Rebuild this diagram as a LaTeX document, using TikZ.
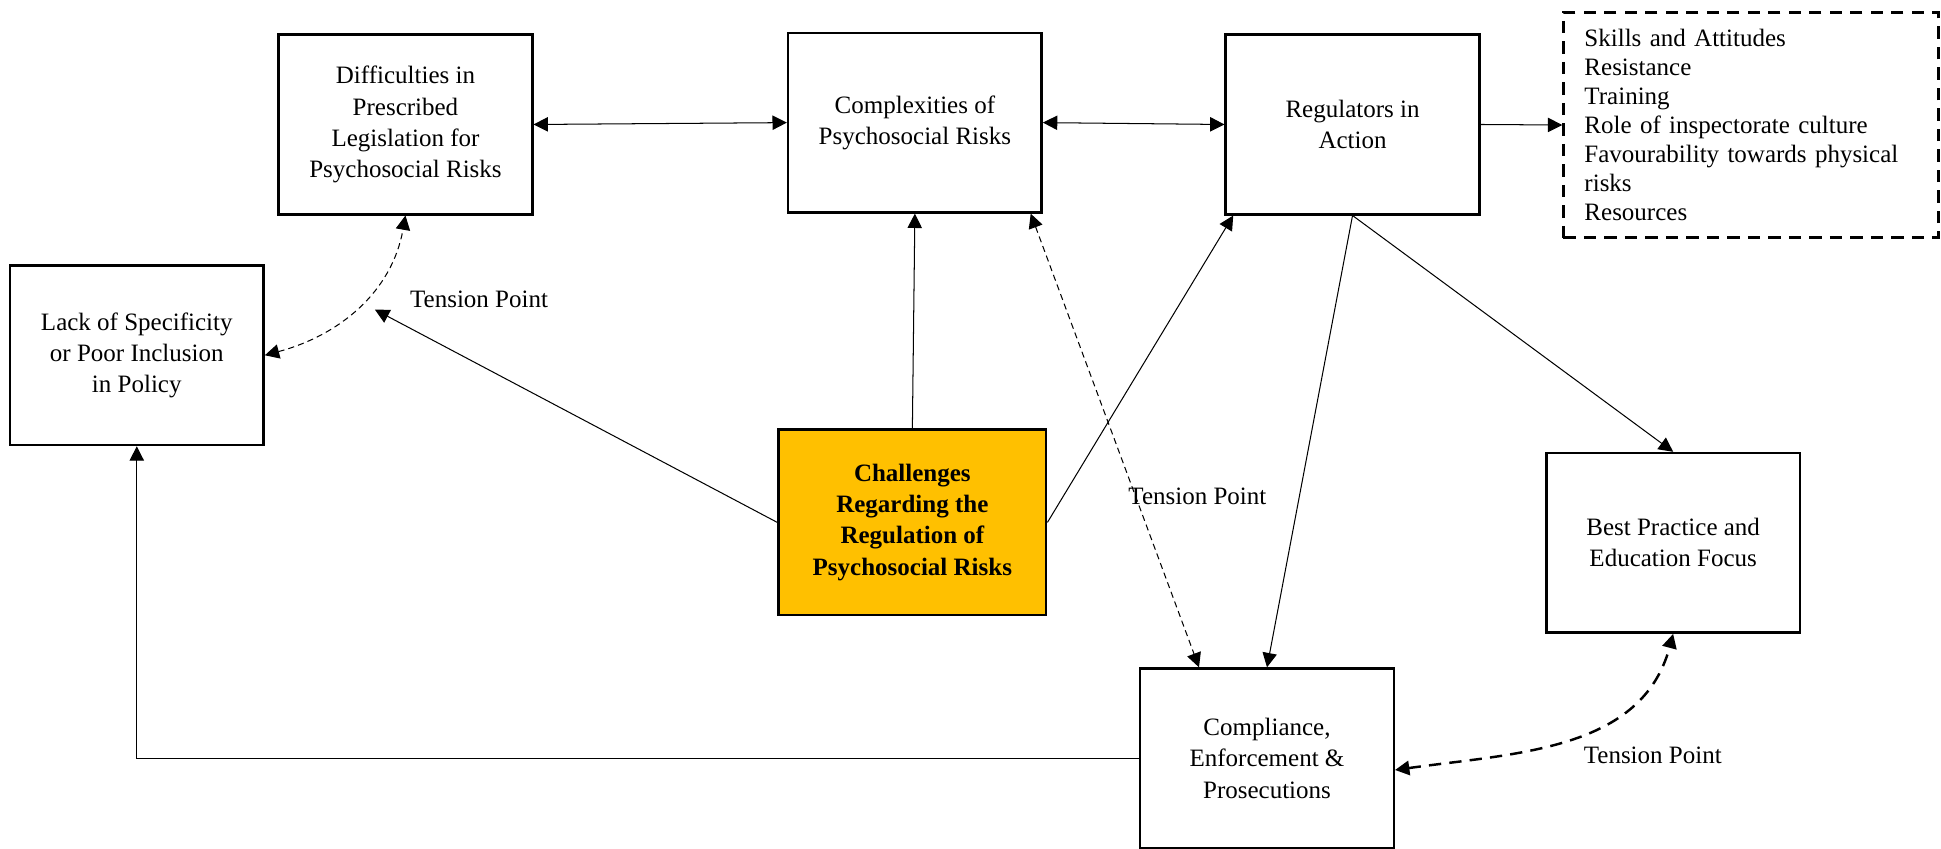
\documentclass[tikz,border=0pt]{standalone}
\usepackage{fontspec}
\setmainfont{Liberation Serif}
\usetikzlibrary{positioning, arrows.meta, calc}
\definecolor{chalgold}{HTML}{FFC000}

\begin{document}
\begin{tikzpicture}[
        >={Triangle[length=7pt, width=7pt]},
        box/.style={draw, line width=1.2pt, minimum width=4.35cm, minimum height=3.08cm,
            align=center, font=\fontsize{12.2}{15.2}\selectfont},
        link/.style={line width=0.5pt},
        thindash/.style={dash pattern=on 3pt off 2pt},
        thickdash/.style={line width=1.2pt, dash pattern=on 6pt off 4pt},
        tplabel/.style={anchor=west, font=\fontsize{12.2}{15.2}\selectfont}
    ]
            \useasboundingbox (0, 0) rectangle (33.29, -14.545);

            \node [box] (Diff) at (6.954, -2.135) {Difficulties in\\Prescribed\\Legislation for\\Psychosocial Risks};
            \node [box] (Cplx) at (15.691, -2.103) {Complexities of\\Psychosocial Risks};
            \node [box] (Reg) at (23.197, -2.135) {Regulators in\\Action};
            \node [draw, thickdash, text width=5.71cm, inner xsep=0.36cm, minimum height=3.864cm,
                align=left, font=\fontsize{12.2}{14.2}\selectfont] (List) at (30.03, -2.144)
                {Skills and Attitudes\\Resistance\\Training\\Role of inspectorate culture\\Favourability towards physical\\risks\\Resources};
            \node [box] (Lack) at (2.346, -6.093) {Lack of Specificity\\or Poor Inclusion\\in Policy};
            \node [box, fill=chalgold, minimum width=4.59cm, minimum height=3.18cm,
                font=\fontsize{12.2}{15.2}\selectfont\bfseries] (Chal) at (15.648, -8.96)
                {Challenges\\Regarding the\\Regulation of\\Psychosocial Risks};
            \node [box] (Best) at (28.696, -9.31) {Best Practice and\\Education Focus};
            \node [box] (Comp) at (21.73, -13.006) {Compliance,\\Enforcement \&\\Prosecutions};

            \coordinate (TP) at (6.43, -5.31);
            \node [tplabel] (TPleft) at (6.91, -5.14) {Tension Point};
            \node [tplabel] (TPmid) at (19.23, -8.51) {Tension Point};
            \node [tplabel] (TPright) at (27.04, -12.95) {Tension Point};

            \draw [<->, link] (Diff.east) -- (Cplx.west);
            \draw [<->, link] (Cplx.east) -- (Reg.west);
            \draw [->, link] (Reg.east) -- (List.west);
            \draw [->, link] (Chal.north) -- (Cplx.south);
            \draw [->, link] (Chal.west) -- (TP);
            \draw [->, link] (Chal.east) -- ($(Reg.south west)+(0.15,0)$);
            \draw [->, link] (Reg.south) -- (Comp.north);
            \draw [->, link] (Reg.south) -- (Best.north);
            \draw [->, link] (Comp.west) -| (Lack.south);
            \draw [<->, link, thindash] ($(Cplx.south east)+(-0.21,0)$) -- ($(Comp.north west)+(1.03,0)$);
            \draw [<->, link, thindash] (Lack.east) to [out=15, in=-100] (Diff.south);
            \draw [<->, thickdash] ($(Comp.east)+(0,-0.2)$) to [out=8, in=-105] (Best.south);
        \end{tikzpicture}
\end{document}
